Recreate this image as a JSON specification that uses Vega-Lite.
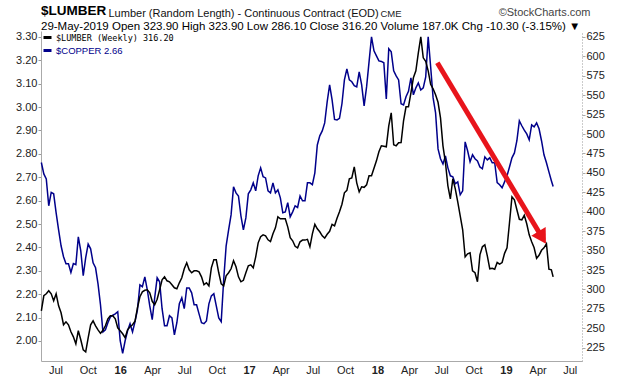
{
"$schema": "https://vega.github.io/schema/vega-lite/v6.json",
"width": 541, "height": 330,
"autosize": {"type": "none"},
"padding": {"left": 41, "top": 31, "right": 38, "bottom": 15},
"background": "white",
"config": {"view": {"stroke": null}, "font": "Liberation Sans"},
"title": {"text": "$LUMBER", "subtitle": "29-May-2019  Open 323.90  High 323.90  Low 286.10  Close 316.20  Volume 187.0K  Chg -10.30 (-3.15%) ▼", "anchor": "start", "frame": "group", "offset": 4, "dy": 30, "font": "Liberation Sans", "fontSize": 13.5, "fontWeight": "bold", "color": "#000", "subtitleFont": "Liberation Sans", "subtitleFontSize": 11.5, "subtitleColor": "#000", "subtitlePadding": 3},
"datasets": {
"w": [
{"d":"2015-06-05","cu":2.763,"lb":272.6},{"d":"2015-06-12","cu":2.714,"lb":291.9},{"d":"2015-06-19","cu":2.693,"lb":294.4},{"d":"2015-06-26","cu":2.578,"lb":298.3},
{"d":"2015-07-03","cu":2.635,"lb":294.4},{"d":"2015-07-10","cu":2.629,"lb":285.4},{"d":"2015-07-17","cu":2.548,"lb":294.4},{"d":"2015-07-24","cu":2.475,"lb":279.0},{"d":"2015-07-31","cu":2.407,"lb":270.0},
{"d":"2015-08-07","cu":2.360,"lb":254.6},{"d":"2015-08-14","cu":2.330,"lb":258.4},{"d":"2015-08-21","cu":2.330,"lb":254.6},{"d":"2015-08-28","cu":2.293,"lb":245.6},
{"d":"2015-09-04","cu":2.331,"lb":239.1},{"d":"2015-09-11","cu":2.326,"lb":230.1},{"d":"2015-09-18","cu":2.445,"lb":246.9},{"d":"2015-09-25","cu":2.385,"lb":235.3},
{"d":"2015-10-02","cu":2.279,"lb":222.4},{"d":"2015-10-09","cu":2.356,"lb":219.8},{"d":"2015-10-16","cu":2.414,"lb":237.9},{"d":"2015-10-23","cu":2.394,"lb":254.6},{"d":"2015-10-30","cu":2.334,"lb":259.7},
{"d":"2015-11-06","cu":2.313,"lb":253.3},{"d":"2015-11-13","cu":2.244,"lb":248.1},{"d":"2015-11-20","cu":2.155,"lb":243.6},{"d":"2015-11-27","cu":2.039,"lb":247.5},
{"d":"2015-12-04","cu":2.048,"lb":253.3},{"d":"2015-12-11","cu":2.078,"lb":262.3},{"d":"2015-12-18","cu":2.103,"lb":266.2},{"d":"2015-12-25","cu":2.110,"lb":266.2},
{"d":"2016-01-01","cu":2.116,"lb":262.3},{"d":"2016-01-08","cu":2.125,"lb":250.7},{"d":"2016-01-15","cu":2.001,"lb":246.9},{"d":"2016-01-22","cu":1.947,"lb":243.0},{"d":"2016-01-29","cu":2.001,"lb":237.9},
{"d":"2016-02-05","cu":2.044,"lb":248.1},{"d":"2016-02-12","cu":2.074,"lb":252.0},{"d":"2016-02-19","cu":2.039,"lb":254.6},{"d":"2016-02-26","cu":2.082,"lb":259.1},
{"d":"2016-03-04","cu":2.133,"lb":276.4},{"d":"2016-03-11","cu":2.240,"lb":290.6},{"d":"2016-03-18","cu":2.232,"lb":297.0},{"d":"2016-03-25","cu":2.274,"lb":299.0},
{"d":"2016-04-01","cu":2.219,"lb":299.6},{"d":"2016-04-08","cu":2.150,"lb":295.7},{"d":"2016-04-15","cu":2.091,"lb":284.8},{"d":"2016-04-22","cu":2.185,"lb":280.3},{"d":"2016-04-29","cu":2.270,"lb":287.4},
{"d":"2016-05-06","cu":2.253,"lb":299.6},{"d":"2016-05-13","cu":2.138,"lb":312.4},{"d":"2016-05-20","cu":2.065,"lb":316.3},{"d":"2016-05-27","cu":2.065,"lb":311.2},
{"d":"2016-06-03","cu":2.108,"lb":309.9},{"d":"2016-06-10","cu":2.099,"lb":306.0},{"d":"2016-06-17","cu":2.026,"lb":302.2},{"d":"2016-06-24","cu":2.078,"lb":300.9},
{"d":"2016-07-01","cu":2.159,"lb":308.6},{"d":"2016-07-08","cu":2.185,"lb":315.0},{"d":"2016-07-15","cu":2.138,"lb":326.6},{"d":"2016-07-22","cu":2.227,"lb":334.3},{"d":"2016-07-29","cu":2.227,"lb":325.3},
{"d":"2016-08-05","cu":2.206,"lb":321.5},{"d":"2016-08-12","cu":2.155,"lb":324.0},{"d":"2016-08-19","cu":2.155,"lb":324.0},{"d":"2016-08-26","cu":2.116,"lb":322.7},
{"d":"2016-09-02","cu":2.078,"lb":316.3},{"d":"2016-09-09","cu":2.074,"lb":306.0},{"d":"2016-09-16","cu":2.086,"lb":308.6},{"d":"2016-09-23","cu":2.159,"lb":304.7},{"d":"2016-09-30","cu":2.193,"lb":327.9},
{"d":"2016-10-07","cu":2.202,"lb":338.2},{"d":"2016-10-14","cu":2.150,"lb":338.2},{"d":"2016-10-21","cu":2.099,"lb":321.5},{"d":"2016-10-28","cu":2.083,"lb":307.3},
{"d":"2016-11-04","cu":2.261,"lb":304.7},{"d":"2016-11-11","cu":2.407,"lb":317.6},{"d":"2016-11-18","cu":2.475,"lb":321.5},{"d":"2016-11-25","cu":2.539,"lb":326.6},
{"d":"2016-12-02","cu":2.659,"lb":336.9},{"d":"2016-12-09","cu":2.633,"lb":329.2},{"d":"2016-12-16","cu":2.620,"lb":316.3},{"d":"2016-12-23","cu":2.535,"lb":309.9},{"d":"2016-12-30","cu":2.475,"lb":311.8},
{"d":"2017-01-06","cu":2.526,"lb":321.5},{"d":"2017-01-13","cu":2.629,"lb":330.5},{"d":"2017-01-20","cu":2.646,"lb":331.7},{"d":"2017-01-27","cu":2.676,"lb":327.9},
{"d":"2017-02-03","cu":2.642,"lb":342.0},{"d":"2017-02-10","cu":2.706,"lb":360.0},{"d":"2017-02-17","cu":2.740,"lb":367.8},{"d":"2017-02-24","cu":2.702,"lb":370.3},
{"d":"2017-03-03","cu":2.697,"lb":369.0},{"d":"2017-03-10","cu":2.642,"lb":363.9},{"d":"2017-03-17","cu":2.633,"lb":361.7},{"d":"2017-03-24","cu":2.676,"lb":371.6},{"d":"2017-03-31","cu":2.633,"lb":379.3},
{"d":"2017-04-07","cu":2.646,"lb":393.5},{"d":"2017-04-14","cu":2.612,"lb":390.9},{"d":"2017-04-21","cu":2.548,"lb":390.9},{"d":"2017-04-28","cu":2.552,"lb":390.9},
{"d":"2017-05-05","cu":2.591,"lb":380.6},{"d":"2017-05-12","cu":2.531,"lb":366.5},{"d":"2017-05-19","cu":2.552,"lb":362.6},{"d":"2017-05-26","cu":2.578,"lb":355.5},
{"d":"2017-06-02","cu":2.571,"lb":353.6},{"d":"2017-06-09","cu":2.620,"lb":361.3},{"d":"2017-06-16","cu":2.599,"lb":363.5},{"d":"2017-06-23","cu":2.599,"lb":363.5},{"d":"2017-06-30","cu":2.676,"lb":364.5},
{"d":"2017-07-07","cu":2.676,"lb":354.9},{"d":"2017-07-14","cu":2.668,"lb":371.6},{"d":"2017-07-21","cu":2.719,"lb":383.8},{"d":"2017-07-28","cu":2.838,"lb":378.1},
{"d":"2017-08-04","cu":2.877,"lb":374.2},{"d":"2017-08-11","cu":2.898,"lb":369.0},{"d":"2017-08-18","cu":2.932,"lb":366.1},{"d":"2017-08-25","cu":3.022,"lb":371.0},
{"d":"2017-09-01","cu":3.095,"lb":374.8},{"d":"2017-09-08","cu":3.031,"lb":383.8},{"d":"2017-09-15","cu":2.947,"lb":381.9},{"d":"2017-09-22","cu":2.945,"lb":391.5},{"d":"2017-09-29","cu":2.952,"lb":399.9},
{"d":"2017-10-06","cu":3.014,"lb":409.6},{"d":"2017-10-13","cu":3.116,"lb":424.4},{"d":"2017-10-20","cu":3.163,"lb":427.6},{"d":"2017-10-27","cu":3.116,"lb":442.4},
{"d":"2017-11-03","cu":3.108,"lb":443.6},{"d":"2017-11-10","cu":3.091,"lb":457.8},{"d":"2017-11-17","cu":3.086,"lb":437.2},{"d":"2017-11-24","cu":3.150,"lb":425.6},
{"d":"2017-12-01","cu":3.095,"lb":432.1},{"d":"2017-12-08","cu":3.005,"lb":431.4},{"d":"2017-12-15","cu":3.086,"lb":434.6},{"d":"2017-12-22","cu":3.193,"lb":446.2},{"d":"2017-12-29","cu":3.300,"lb":446.2},
{"d":"2018-01-05","cu":3.240,"lb":455.9},{"d":"2018-01-12","cu":3.219,"lb":465.5},{"d":"2018-01-19","cu":3.197,"lb":477.1},{"d":"2018-01-26","cu":3.195,"lb":484.8},
{"d":"2018-02-02","cu":3.189,"lb":484.2},{"d":"2018-02-09","cu":3.035,"lb":483.5},{"d":"2018-02-16","cu":3.249,"lb":510.5},{"d":"2018-02-23","cu":3.236,"lb":527.3},
{"d":"2018-03-02","cu":3.155,"lb":486.1},{"d":"2018-03-09","cu":3.133,"lb":484.8},{"d":"2018-03-16","cu":3.116,"lb":488.7},{"d":"2018-03-23","cu":3.014,"lb":489.1},{"d":"2018-03-30","cu":3.009,"lb":517.0},
{"d":"2018-04-06","cu":3.044,"lb":535.0},{"d":"2018-04-13","cu":3.067,"lb":535.0},{"d":"2018-04-20","cu":3.125,"lb":553.0},{"d":"2018-04-27","cu":3.052,"lb":572.3},
{"d":"2018-05-04","cu":3.082,"lb":581.3},{"d":"2018-05-11","cu":3.103,"lb":604.4},{"d":"2018-05-18","cu":3.073,"lb":625.0},{"d":"2018-05-25","cu":3.082,"lb":598.0},
{"d":"2018-06-01","cu":3.129,"lb":593.5},{"d":"2018-06-08","cu":3.300,"lb":581.3},{"d":"2018-06-15","cu":3.172,"lb":563.9},{"d":"2018-06-22","cu":3.039,"lb":558.1},{"d":"2018-06-29","cu":2.975,"lb":550.4},
{"d":"2018-07-06","cu":2.821,"lb":540.8},{"d":"2018-07-13","cu":2.779,"lb":520.8},{"d":"2018-07-20","cu":2.757,"lb":484.8},{"d":"2018-07-27","cu":2.791,"lb":463.3},
{"d":"2018-08-03","cu":2.740,"lb":433.4},{"d":"2018-08-10","cu":2.706,"lb":416.6},{"d":"2018-08-17","cu":2.702,"lb":442.4},{"d":"2018-08-24","cu":2.672,"lb":429.5},{"d":"2018-08-31","cu":2.680,"lb":412.8},
{"d":"2018-09-07","cu":2.625,"lb":394.8},{"d":"2018-09-14","cu":2.642,"lb":376.8},{"d":"2018-09-21","cu":2.851,"lb":342.0},{"d":"2018-09-28","cu":2.813,"lb":345.9},
{"d":"2018-10-05","cu":2.766,"lb":347.2},{"d":"2018-10-12","cu":2.796,"lb":324.0},{"d":"2018-10-19","cu":2.779,"lb":321.5},{"d":"2018-10-26","cu":2.770,"lb":309.9},
{"d":"2018-11-02","cu":2.744,"lb":344.6},{"d":"2018-11-09","cu":2.736,"lb":354.9},{"d":"2018-11-16","cu":2.787,"lb":357.5},{"d":"2018-11-23","cu":2.774,"lb":343.3},{"d":"2018-11-30","cu":2.783,"lb":326.6},
{"d":"2018-12-07","cu":2.762,"lb":327.2},{"d":"2018-12-14","cu":2.762,"lb":326.0},{"d":"2018-12-21","cu":2.677,"lb":334.7},{"d":"2018-12-28","cu":2.668,"lb":332.6},
{"d":"2019-01-04","cu":2.655,"lb":334.7},{"d":"2019-01-11","cu":2.680,"lb":346.5},{"d":"2019-01-18","cu":2.706,"lb":353.6},{"d":"2019-01-25","cu":2.744,"lb":385.8},
{"d":"2019-02-01","cu":2.783,"lb":419.2},{"d":"2019-02-08","cu":2.804,"lb":415.4},{"d":"2019-02-15","cu":2.856,"lb":402.5},{"d":"2019-02-22","cu":2.941,"lb":390.3},
{"d":"2019-03-01","cu":2.920,"lb":389.6},{"d":"2019-03-08","cu":2.901,"lb":395.4},{"d":"2019-03-15","cu":2.885,"lb":384.5},{"d":"2019-03-22","cu":2.860,"lb":370.3},{"d":"2019-03-29","cu":2.924,"lb":361.3},
{"d":"2019-04-05","cu":2.915,"lb":353.6},{"d":"2019-04-12","cu":2.932,"lb":340.1},{"d":"2019-04-19","cu":2.907,"lb":344.0},{"d":"2019-04-26","cu":2.856,"lb":350.4},
{"d":"2019-05-03","cu":2.796,"lb":353.6},{"d":"2019-05-10","cu":2.762,"lb":358.8},{"d":"2019-05-17","cu":2.723,"lb":326.2},{"d":"2019-05-24","cu":2.685,"lb":325.3},{"d":"2019-05-29","cu":2.66,"lb":316.2}
],
"arrow": [{"d":"2018-07-04","lb":591.6,"d2":"2019-04-24","lb2":369.8}],
"head": [{"d":"2019-04-28","lb":366.7}]
},
"encoding": {
 "x": {"field": "d", "type": "temporal",
  "scale": {"domain": [{"year": 2015, "month": 6, "date": 4}, {"year": 2019, "month": 8, "date": 19}]},
  "axis": {"values": [{"year":2015,"month":7,"date":15},{"year":2015,"month":10,"date":15},{"year":2016,"month":1,"date":15},{"year":2016,"month":4,"date":15},{"year":2016,"month":7,"date":15},{"year":2016,"month":10,"date":15},{"year":2017,"month":1,"date":15},{"year":2017,"month":4,"date":15},{"year":2017,"month":7,"date":15},{"year":2017,"month":10,"date":15},{"year":2018,"month":1,"date":15},{"year":2018,"month":4,"date":15},{"year":2018,"month":7,"date":15},{"year":2018,"month":10,"date":15},{"year":2019,"month":1,"date":15},{"year":2019,"month":4,"date":15},{"year":2019,"month":7,"date":15}],
   "labelExpr": "month(datum.value) == 0 ? timeFormat(datum.value, '%y') : timeFormat(datum.value, '%b')",
   "labelFontWeight": {"condition": {"test": "month(datum.value) == 0", "value": "bold"}, "value": "normal"},
   "labelFont": "Liberation Sans", "labelFontSize": 11, "labelColor": "#222", "labelPadding": 3,
   "ticks": false, "grid": false, "domainColor": "#aaa", "labelOverlap": false,
   "title": "CME", "titleFont": "Liberation Sans", "titleFontSize": 9.5, "titleFontWeight": "normal", "titleColor": "#222",
   "titleAlign": "left", "titleBaseline": "alphabetic", "titleAngle": 0, "titleX": 339, "titleY": -345}}
},
"layer": [
{"data": {"name": "w"},
 "mark": {"type": "line", "strokeWidth": 1.5},
 "encoding": {
  "y": {"field": "cu", "type": "quantitative",
   "scale": {"domain": [1.9145, 3.325], "nice": false, "zero": false},
   "axis": {"values": [2.0,2.1,2.2,2.3,2.4,2.5,2.6,2.7,2.8,2.9,3.0,3.1,3.2,3.3], "format": ".2f",
    "labelFont": "Liberation Sans", "labelFontSize": 11, "labelColor": "#222", "labelPadding": 1,
    "tickSize": 3, "tickColor": "#999", "domainColor": "#aaa", "grid": false,
    "title": "Lumber (Random Length) - Continuous Contract (EOD)", "titleFont": "Liberation Sans", "titleFontSize": 11, "titleFontWeight": "normal", "titleColor": "#111",
    "titleAngle": 0, "titleAlign": "left", "titleBaseline": "alphabetic", "titleX": 67, "titleY": -15}},
  "color": {"datum": "$COPPER 2.66",
   "scale": {"domain": ["$LUMBER (Weekly) 316.20", "$COPPER 2.66"], "range": ["#000000", "#00008b"]},
   "legend": {"title": null, "orient": "top-left", "offset": 1, "padding": 0, "symbolType": "stroke", "symbolStrokeWidth": 3, "symbolSize": 64,
    "labelFont": "DejaVu Sans Mono", "labelFontSize": 8.5, "labelOffset": 3, "rowPadding": 0,
    "encode": {"labels": {"update": {"font": {"signal": "datum.value == '$COPPER 2.66' ? 'Liberation Sans' : 'DejaVu Sans Mono'"}, "fontSize": {"signal": "datum.value == '$COPPER 2.66' ? 9.5 : 8.5"}, "fill": {"signal": "datum.value == '$COPPER 2.66' ? '#00008b' : '#000000'"}}}}}}
 }},
{"encoding": {
  "y": {"field": "lb", "type": "quantitative",
   "scale": {"domain": [208.0, 632.5], "nice": false, "zero": false},
   "axis": {"orient": "right", "values": [225,250,275,300,325,350,375,400,425,450,475,500,525,550,575,600,625],
    "labelFont": "Liberation Sans", "labelFontSize": 11, "labelColor": "#222", "labelPadding": 1,
    "tickSize": 3, "tickColor": "#aaa", "domainColor": "#999", "domainDash": [1, 2], "grid": false,
    "title": "©StockCharts.com", "titleFont": "Liberation Sans", "titleFontSize": 11, "titleFontWeight": "normal", "titleColor": "#444",
    "titleAngle": 0, "titleAlign": "right", "titleBaseline": "alphabetic", "titleX": 8, "titleY": -16}}
 },
 "layer": [
 {"data": {"name": "w"},
  "mark": {"type": "line", "strokeWidth": 1.5},
  "encoding": {"color": {"datum": "$LUMBER (Weekly) 316.20"}}},
 {"data": {"name": "arrow"},
  "mark": {"type": "rule", "color": "#e8141b", "strokeWidth": 5},
  "encoding": {"x2": {"field": "d2"}, "y2": {"field": "lb2"}}},
 {"data": {"name": "head"},
  "mark": {"type": "point", "shape": "triangle-up", "filled": true, "size": 280, "angle": 149, "color": "#e8141b", "opacity": 1},
  "encoding": {}}
]}
],
"resolve": {"scale": {"y": "independent"}}
}
